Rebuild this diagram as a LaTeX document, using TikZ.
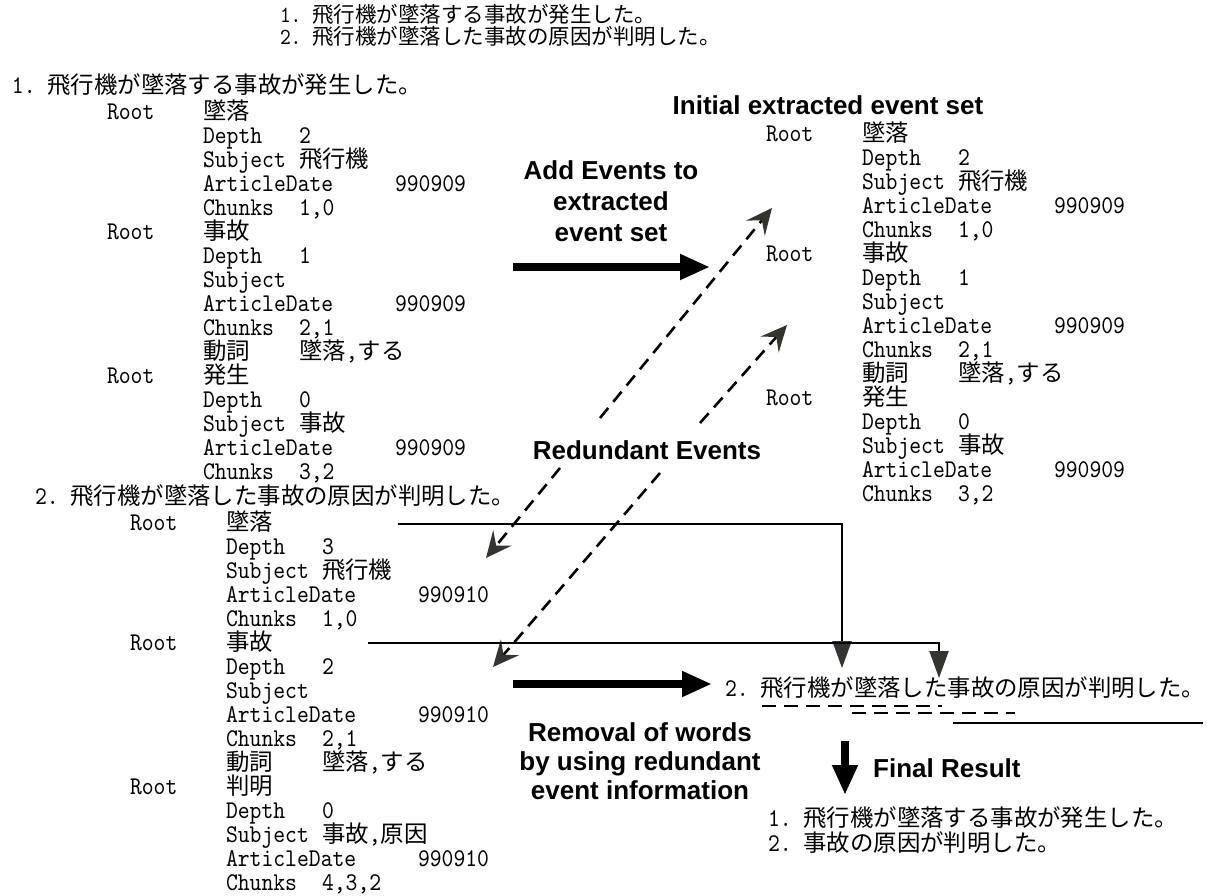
\documentclass[tikz,border=0pt]{standalone}
\usepackage{fontspec}
\newfontfamily\cjk{Noto Sans CJK JP}
\newfontfamily\lbfam{Liberation Sans}
\newfontfamily\lmm{lmmono10-regular}[Extension=.otf,FakeStretch=0.885]
\usetikzlibrary{arrows.meta}
\definecolor{tipgray}{HTML}{33362F}
\newcommand\latf{\lmm\fontsize{25.5}{24}\selectfont}
\newcommand\jpf{\cjk\fontsize{23.4}{24}\selectfont}
\newcommand\latsm{\lmm\fontsize{23.1}{22}\selectfont}
\newcommand\jpsm{\cjk\fontsize{21.5}{22}\selectfont}
\newcommand\lblf{\lbfam\bfseries\fontsize{26}{30}\selectfont}
\newcommand\cm{{\latf,}}
\newcommand\kv[5]{\node[tx] (#1k) at (#2,#3+8) {\latf #4}; \node[tx] (#1v) at (#2+96,#3+8) {#5};}
\newcommand\kd[4]{\node[tx] (#1k) at (#2,#3+8) {\latf ArticleDate}; \node[tx] (#1v) at (#2+192,#3+8) {\latf #4};}
\newcommand\ko[4]{\node[tx] (#1k) at (#2,#3+8) {\latf #4};}
\begin{document}
\begin{tikzpicture}[x=1pt,y=-1pt,
  tx/.style={anchor=base west,inner sep=0,outer sep=0},
  lbl/.style={font=\lblf,align=center,inner sep=0},
  bold/.style={line width=8pt,-{Triangle[length=30pt,width=24pt]}},
  dasharr/.style={line width=2.6pt,dash pattern=on 13pt off 8pt,-{Stealth[length=26pt,width=24pt,inset=10pt,color=tipgray]}},
  conn/.style={line width=2.2pt,-{Triangle[length=27pt,width=19pt,color=tipgray]}},
  uline/.style={line width=2.4pt,dash pattern=on 14pt off 8pt}]
\useasboundingbox (0,0) rectangle (1208,895);

% top sentences
\node[tx] (top1) at (280,22) {\latsm 1.\ \jpsm 飛行機が墜落する事故が発生した。};
\node[tx] (top2) at (280,44) {\latsm 2.\ \jpsm 飛行機が墜落した事故の原因が判明した。};

% block 1 (upper left)
\node[tx] (s1) at (12,93) {\latf 1.\ \jpf 飛行機が墜落する事故が発生した。};
\kv{a1}{107}{111}{Root}{\jpf 墜落}
\kv{a2}{203}{135}{Depth}{\latf 2}
\kv{a3}{203}{159}{Subject}{\jpf 飛行機}
\kd{a4}{203}{183}{990909}
\kv{a5}{203}{207}{Chunks}{\latf 1,0}
\kv{a6}{107}{231}{Root}{\jpf 事故}
\kv{a7}{203}{255}{Depth}{\latf 1}
\ko{a8}{203}{279}{Subject}
\kd{a9}{203}{303}{990909}
\kv{a10}{203}{327}{Chunks}{\latf 2,1}
\kv{a11}{203}{351}{\jpf 動詞}{\jpf 墜落\cm する}
\kv{a12}{107}{375}{Root}{\jpf 発生}
\kv{a13}{203}{399}{Depth}{\latf 0}
\kv{a14}{203}{423}{Subject}{\jpf 事故}
\kd{a15}{203}{447}{990909}
\kv{a16}{203}{471}{Chunks}{\latf 3,2}

% block 2 (lower left)
\node[tx] (s2) at (35,504) {\latf 2.\ \jpf 飛行機が墜落した事故の原因が判明した。};
\kv{b1}{130}{522}{Root}{\jpf 墜落}
\kv{b2}{226}{546}{Depth}{\latf 3}
\kv{b3}{226}{570}{Subject}{\jpf 飛行機}
\kd{b4}{226}{594}{990910}
\kv{b5}{226}{618}{Chunks}{\latf 1,0}
\kv{b6}{130}{642}{Root}{\jpf 事故}
\kv{b7}{226}{666}{Depth}{\latf 2}
\ko{b8}{226}{690}{Subject}
\kd{b9}{226}{714}{990910}
\kv{b10}{226}{738}{Chunks}{\latf 2,1}
\kv{b11}{226}{762}{\jpf 動詞}{\jpf 墜落\cm する}
\kv{b12}{130}{786}{Root}{\jpf 判明}
\kv{b13}{226}{810}{Depth}{\latf 0}
\kv{b14}{226}{834}{Subject}{\jpf 事故\cm 原因}
\kd{b15}{226}{858}{990910}
\kv{b16}{226}{882}{Chunks}{\latf 4,3,2}

% block 3 (right)
\node[lbl] (init) at (828,105) {Initial extracted event set};
\kv{c1}{766}{133}{Root}{\jpf 墜落}
\kv{c2}{862}{157}{Depth}{\latf 2}
\kv{c3}{862}{181}{Subject}{\jpf 飛行機}
\kd{c4}{862}{205}{990909}
\kv{c5}{862}{229}{Chunks}{\latf 1,0}
\kv{c6}{766}{253}{Root}{\jpf 事故}
\kv{c7}{862}{277}{Depth}{\latf 1}
\ko{c8}{862}{301}{Subject}
\kd{c9}{862}{325}{990909}
\kv{c10}{862}{349}{Chunks}{\latf 2,1}
\kv{c11}{862}{373}{\jpf 動詞}{\jpf 墜落\cm する}
\kv{c12}{766}{397}{Root}{\jpf 発生}
\kv{c13}{862}{421}{Depth}{\latf 0}
\kv{c14}{862}{445}{Subject}{\jpf 事故}
\kd{c15}{862}{469}{990909}
\kv{c16}{862}{493}{Chunks}{\latf 3,2}

% labels
\node[lbl,font=\lbfam\bfseries\fontsize{26}{31}\selectfont] (add) at (611,201) {Add Events to\\extracted\\event set};
\node[lbl] (red) at (647,450) {Redundant Events};
\node[lbl,font=\lbfam\bfseries\fontsize{26}{29}\selectfont] (rem) at (640,761) {Removal of words\\by using redundant\\event information};
\node[lbl,anchor=west] (fin) at (873,768) {Final Result};

% middle sentence and result
\node[tx] (mid) at (725,696) {\latf 2.\ \jpf 飛行機が墜落した事故の原因が判明した。};
\node[tx] (fin1) at (768,826) {\latf 1.\ \jpf 飛行機が墜落する事故が発生した。};
\node[tx] (fin2) at (768,851) {\latf 2.\ \jpf 事故の原因が判明した。};

% bold arrows
\coordinate (p1s) at (513,267); \coordinate (p1e) at (710,267);
\draw[bold] (p1s) -- (p1e);
\coordinate (p2s) at (513,684); \coordinate (p2e) at (712,684);
\draw[bold] (p2s) -- (p2e);
\coordinate (p3s) at (845,741); \coordinate (p3e) at (845,795);
\draw[bold] (p3s) -- (p3e);

% dashed arrows (redundant events)
\coordinate (dAs) at (600,418); \coordinate (dAe) at (772,208);
\coordinate (dBs) at (700,423); \coordinate (dBe) at (787,325);
\coordinate (dCs) at (560,468); \coordinate (dCe) at (486,558);
\coordinate (dDs) at (660,473); \coordinate (dDe) at (493,667);
\draw[dasharr] (dAs) -- (dAe);
\draw[dasharr] (dBs) -- (dBe);
\draw[dasharr] (dCs) -- (dCe);
\draw[dasharr] (dDs) -- (dDe);

% solid connectors
\coordinate (l1s) at (398,524); \coordinate (l1e) at (842,668);
\coordinate (l2s) at (368,643); \coordinate (l2e) at (939,678);
\draw[conn] (l1s) -| (l1e);
\draw[conn] (l2s) -| (l2e);

% underlines
\coordinate (u1s) at (762,706); \coordinate (u1e) at (942,706);
\coordinate (u2s) at (852,713); \coordinate (u2e) at (1015,713);
\coordinate (u3s) at (953,723); \coordinate (u3e) at (1203,723);
\draw[uline] (u1s) -- (u1e);
\draw[uline] (u2s) -- (u2e);
\draw[line width=2.4pt] (u3s) -- (u3e);
\end{tikzpicture}
\end{document}
